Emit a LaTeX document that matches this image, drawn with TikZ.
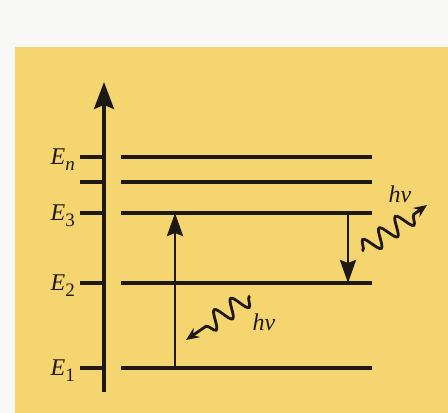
\documentclass[tikz,border=0pt]{standalone}
\usepackage{fontspec}
\setmainfont{Liberation Serif}
\usepackage{tikz}
\usetikzlibrary{arrows.meta,decorations.pathmorphing,positioning}
\definecolor{paperyellow}{RGB}{245,213,112}
\definecolor{paperwhite}{RGB}{248,248,246}
\definecolor{inkdark}{RGB}{30,25,20}
\tikzset{
  levelline/.style={line width=3.2pt,color=inkdark},
  axisarr/.style={line width=3.2pt,color=inkdark,-{Stealth[length=27pt,width=20pt,inset=4pt]}},
  transarr/.style={line width=2.8pt,color=inkdark,-{Stealth[length=23pt,width=16pt,inset=3pt]}},
  photonarr/.style={line width=2.8pt,color=inkdark,decorate,
    decoration={snake,amplitude=9pt,segment length=20pt,pre length=1pt,post length=16pt},
    -{Stealth[length=13pt,width=11pt]}},
  elabel/.style={font=\fontsize{24}{24}\selectfont,inner sep=0pt,text=inkdark},
  hvlabel/.style={font=\fontsize{24}{24}\selectfont\itshape,inner sep=0pt,text=inkdark}
}
\newcommand{\elev}[1]{\textit{E}\raisebox{-6pt}{\fontsize{19}{19}\selectfont #1}}

\begin{document}
\begin{tikzpicture}[x=1pt,y=1pt]
  \useasboundingbox (0,0) rectangle (448,413);
  \fill[paperwhite] (0,0) rectangle (448,413);
  \fill[paperyellow] (15,0) rectangle (448,366);

  % energy axis
  \coordinate (ax0) at (104,21);
  \coordinate (ax1) at (104,331);
  \draw[axisarr] (ax0) -- (ax1);

  % levels
  \foreach \nm/\yy in {1/45,2/130,3/200,4/231,n/256} {
    \coordinate (tick\nm) at (80,\yy);
    \coordinate (axis\nm) at (104,\yy);
    \coordinate (lvlL\nm) at (121,\yy);
    \coordinate (lvlR\nm) at (372,\yy);
    \draw[levelline] (tick\nm) -- (axis\nm);
    \draw[levelline] (lvlL\nm) -- (lvlR\nm);
  }

  \node[elabel,anchor=base east] (lblEn) at ([xshift=-5pt,yshift=-8pt]tickn) {\elev{\textit{n}}};
  \node[elabel,anchor=base east] (lblE3) at ([xshift=-5pt,yshift=-8pt]tick3) {\elev{3}};
  \node[elabel,anchor=base east] (lblE2) at ([xshift=-5pt,yshift=-8pt]tick2) {\elev{2}};
  \node[elabel,anchor=base east] (lblE1) at ([xshift=-5pt,yshift=-8pt]tick1) {\elev{1}};

  % absorption and emission
  \coordinate (absBot) at (175,45);
  \coordinate (absTop) at (175,200);
  \draw[transarr] (absBot) -- (absTop);
  \coordinate (emTop) at (348,200);
  \coordinate (emBot) at (348,130);
  \draw[transarr] (emTop) -- (emBot);

  % photons
  \coordinate (phInS) at (250,117);
  \coordinate (phInE) at (186,73);
  \draw[photonarr] (phInS) -- (phInE);
  \node[hvlabel] (hvIn) at (264,91) {hν};
  \coordinate (phOutS) at (362,162);
  \coordinate (phOutE) at (427,208);
  \draw[photonarr] (phOutS) -- (phOutE);
  \node[hvlabel] (hvOut) at (400,219) {hν};
\end{tikzpicture}
\end{document}
